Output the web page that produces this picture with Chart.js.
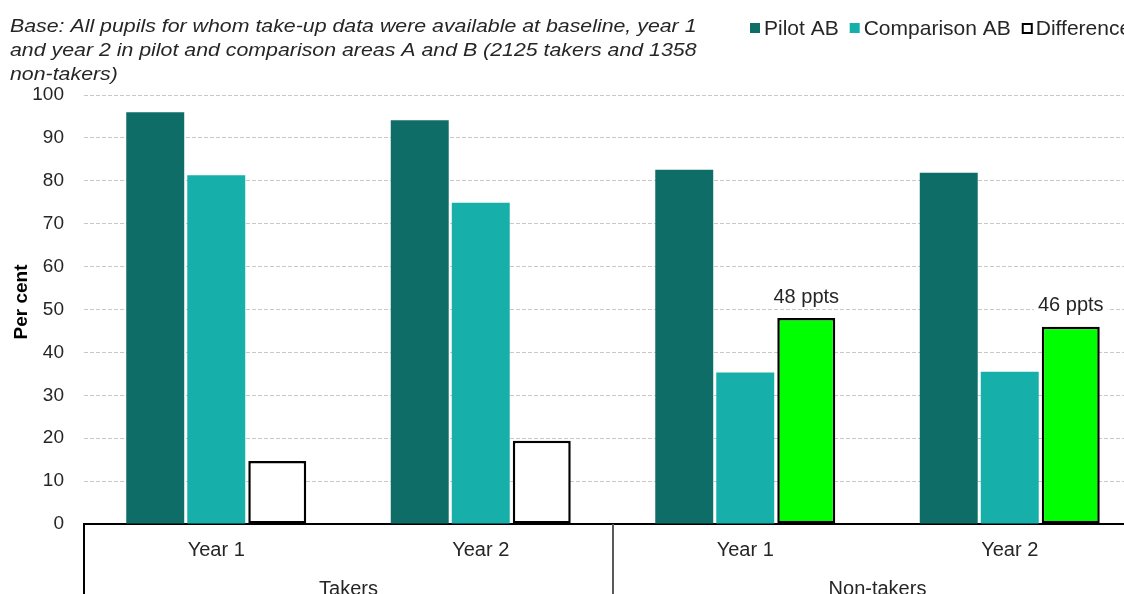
<!DOCTYPE html>
<html>
<head>
<meta charset="utf-8">
<script src="https://cdn.jsdelivr.net/npm/chart.js@4.4.1/dist/chart.umd.min.js"></script>
<style>
  html, body { margin: 0; padding: 0; background: #fff; overflow: hidden; width: 1124px; height: 594px; }
  #wrap { position: relative; width: 1150px; height: 594px; }
</style>
</head>
<body>
<div id="wrap"><canvas id="c" width="1150" height="594"></canvas></div>
<script>
// Categories and their two-level grouping
const categories = ['Year 1', 'Year 2', 'Year 1', 'Year 2'];
const groups = ['Takers', 'Non-takers'];
const groupSize = 2;

// Series values (per cent)
const pilotAB = [96.0, 94.1, 82.6, 81.9];
const comparisonAB = [81.3, 74.9, 35.3, 35.5];
const difference = [14.7, 19.4, 48, 46];
// Which difference bars carry a "ppts" label (and are highlighted)
const differenceLabelled = [false, false, true, true];

// Axis ticks
const yTicks = [0, 10, 20, 30, 40, 50, 60, 70, 80, 90, 100];

const titleLines = [
  'Base: All pupils for whom take-up data were available at baseline, year 1',
  'and year 2 in pilot and comparison areas A and B (2125 takers and 1358',
  'non-takers)'
];
const seriesNames = ['Pilot AB', 'Comparison AB', 'Difference'];

const FONT = "'Liberation Sans', Arial, sans-serif";
const FS = 19;
const TEXT = '#262626';
const PILOT = '#0E6D67';
const COMP = '#17AFA9';
const GREEN = '#00FF00';

const decorations = {
  id: 'decorations',
  afterDraw(chart) {
    const ctx = chart.ctx;
    const x = chart.scales.x;
    const area = chart.chartArea;
    ctx.save();

    // Heading text (slightly widened italic face)
    ctx.save();
    ctx.fillStyle = TEXT;
    ctx.font = `italic 18px ${FONT}`;
    ctx.textAlign = 'left';
    ctx.textBaseline = 'alphabetic';
    ctx.translate(10, 0);
    ctx.scale(1.185, 1);
    titleLines.forEach((line, i) => ctx.fillText(line, 0, 31.5 + i * 24));
    ctx.restore();

    // Legend
    ctx.font = `21px ${FONT}`;
    let lx = 750;
    const ly = 28;
    chart.data.datasets.forEach((ds, i) => {
      if (i === 2) {
        ctx.fillStyle = '#fff';
        ctx.fillRect(lx, ly - 5, 11, 11);
        ctx.strokeStyle = '#000';
        ctx.lineWidth = 2;
        ctx.strokeRect(lx + 1, ly - 4, 9, 9);
      } else {
        ctx.fillStyle = ds.backgroundColor;
        ctx.fillRect(lx, ly - 5, 10, 10);
      }
      lx += 14;
      ctx.fillStyle = TEXT;
      ctx.textAlign = 'left';
      ctx.textBaseline = 'middle';
      ctx.fillText(ds.label, lx, ly + 1);
      lx += ctx.measureText(ds.label).width + 11;
    });

    // Y axis title
    ctx.save();
    ctx.translate(22, 302);
    ctx.rotate(-Math.PI / 2);
    ctx.font = `bold ${FS}px ${FONT}`;
    ctx.textAlign = 'center';
    ctx.textBaseline = 'middle';
    ctx.fillStyle = '#000';
    ctx.fillText('Per cent', 0, 0);
    ctx.restore();

    // Group boundaries below the axis
    const half = (x.getPixelForValue(1) - x.getPixelForValue(0)) / 2;
    ctx.lineWidth = 2;
    for (let g = 0; g <= groups.length; g++) {
      const idx = g * groupSize;
      const px = x.getPixelForValue(Math.min(idx, categories.length - 1)) + (idx >= categories.length ? half : -half);
      ctx.strokeStyle = g === 0 ? '#000' : '#595959';
      ctx.beginPath();
      ctx.moveTo(Math.round(px), area.bottom);
      ctx.lineTo(Math.round(px), chart.height + 5);
      ctx.stroke();
    }

    // Group labels
    ctx.font = `20px ${FONT}`;
    ctx.fillStyle = TEXT;
    ctx.textAlign = 'center';
    ctx.textBaseline = 'alphabetic';
    groups.forEach((name, g) => {
      const a = x.getPixelForValue(g * groupSize);
      const b = x.getPixelForValue(g * groupSize + groupSize - 1);
      ctx.fillText(name, (a + b) / 2, 595);
    });

    // Value labels on highlighted difference bars
    const meta = chart.getDatasetMeta(2);
    ctx.font = `20px ${FONT}`;
    meta.data.forEach((bar, i) => {
      if (!differenceLabelled[i]) return;
      const text = `${Math.round(difference[i])} ppts`;
      const w = ctx.measureText(text).width;
      const cy = bar.y - 21;
      ctx.fillStyle = '#fff';
      ctx.fillRect(bar.x - w / 2 - 4, cy - 11, w + 8, 22);
      ctx.fillStyle = TEXT;
      ctx.textBaseline = 'middle';
      ctx.fillText(text, bar.x, cy);
    });

    ctx.restore();
  }
};

new Chart(document.getElementById('c'), {
  type: 'bar',
  data: {
    labels: categories,
    datasets: [
      { label: seriesNames[0], data: pilotAB, backgroundColor: PILOT, borderWidth: 0 },
      { label: seriesNames[1], data: comparisonAB, backgroundColor: COMP, borderWidth: 0 },
      {
        label: seriesNames[2], data: difference,
        backgroundColor: c => differenceLabelled[c.dataIndex] ? GREEN : '#FFFFFF',
        borderColor: '#000', borderWidth: 2.5, borderSkipped: false
      }
    ]
  },
  options: {
    responsive: false,
    animation: false,
    events: [],
    categoryPercentage: 0.692,
    barPercentage: 0.95,
    layout: { padding: { top: 95, right: 8, left: 0, bottom: 0 } },
    plugins: { legend: { display: false }, title: { display: false }, tooltip: { enabled: false } },
    scales: {
      x: {
        grid: { display: false, drawTicks: false },
        border: { display: true, color: '#000', width: 2 },
        ticks: { color: TEXT, font: { family: FONT, size: 20 }, padding: 14 },
        afterFit: s => { s.height = 70; }
      },
      y: {
        min: 0, max: 100,
        afterBuildTicks: s => { s.ticks = yTicks.map(v => ({ value: v })); },
        grid: { color: '#C8C8C8', lineWidth: 1, drawTicks: false },
        border: { display: false, dash: [4, 2] },
        ticks: { color: TEXT, font: { family: FONT, size: FS }, padding: 20 },
        afterFit: s => { s.width = 84; }
      }
    }
  },
  plugins: [decorations]
});
</script>
</body>
</html>
